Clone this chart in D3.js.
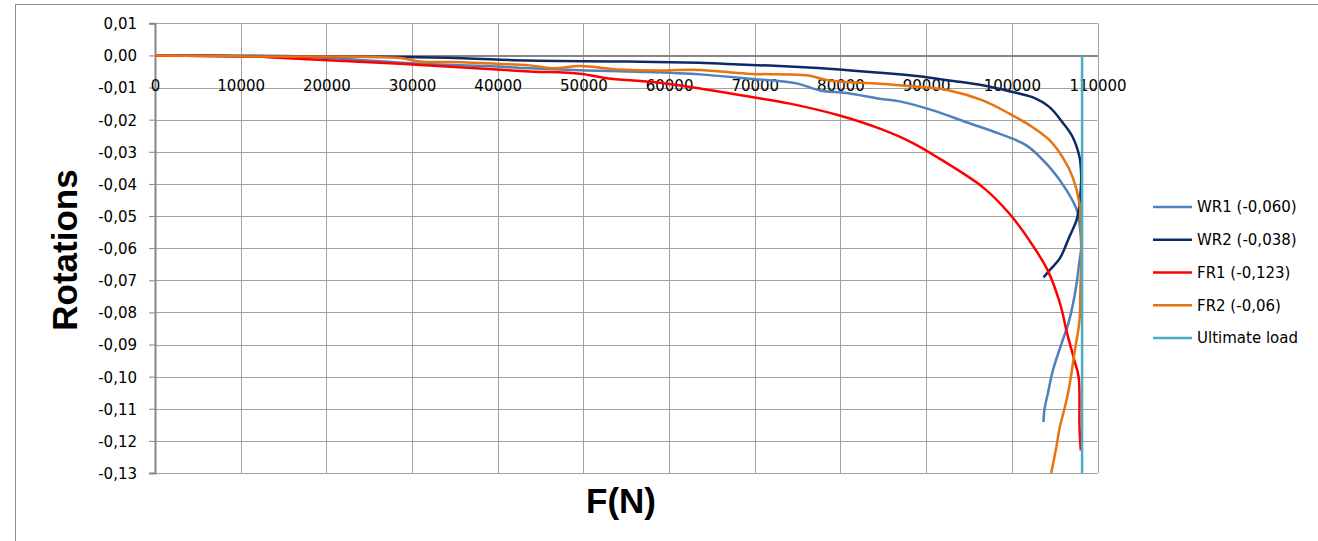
<!DOCTYPE html>
<html>
<head>
<meta charset="utf-8">
<script src="https://cdn.jsdelivr.net/npm/d3@7"></script>
<style>
  html, body { margin: 0; padding: 0; background: #fff; }
  svg { display: block; }
  .tick-label { font-family: "DejaVu Sans", sans-serif; font-size: 15px; fill: #000; }
  .axis-title { font-family: "Liberation Sans", Arial, sans-serif; font-weight: bold; font-size: 35px; fill: #000; }
</style>
</head>
<body>
<svg id="chart" width="1318" height="541"></svg>
<script>
// Load F (N) and measured rotation for each specimen
const wr1F   = [0, 16900, 30900, 38700, 43700, 50400, 56200, 63600, 69100, 74900, 77600, 80700, 84600, 86900, 90800, 94700, 98600, 101700, 104400, 106400, 107600, 107900, 108100, 107900, 107500, 106700, 105800, 104800, 104200, 103800, 103700];
const wr1Rot = [0, -0.0003, -0.0026, -0.0033, -0.0040, -0.0047, -0.0051, -0.0059, -0.0072, -0.0087, -0.0109, -0.0117, -0.0135, -0.0143, -0.0171, -0.0208, -0.0244, -0.0280, -0.0348, -0.0420, -0.0482, -0.0524, -0.0600, -0.0638, -0.0721, -0.0825, -0.0897, -0.0980, -0.1053, -0.1104, -0.1141];

const wr2F   = [0, 11000, 29000, 36000, 43500, 55000, 63500, 68200, 75200, 79900, 84600, 89200, 92700, 96600, 100100, 102400, 104400, 105900, 107100, 107900, 108050, 108100, 108000, 107900, 107550, 106700, 105600, 104400, 103700];
const wr2Rot = [0, -0.0003, -0.0005, -0.0009, -0.0016, -0.0019, -0.0023, -0.0028, -0.0036, -0.0044, -0.0054, -0.0065, -0.0078, -0.0093, -0.0114, -0.0130, -0.0161, -0.0208, -0.0254, -0.0316, -0.0348, -0.0380, -0.0436, -0.0467, -0.0513, -0.0566, -0.0632, -0.0669, -0.0691];

const fr1F   = [0, 11100, 14900, 20800, 28600, 39900, 43700, 49600, 52700, 58100, 63600, 69800, 74100, 79900, 84600, 88400, 91600, 96600, 99700, 102400, 104200, 105600, 106500, 107300, 107800, 107900, 108050];
const fr1Rot = [0, -0.0003, -0.0008, -0.0016, -0.0026, -0.0044, -0.0050, -0.0057, -0.0071, -0.0083, -0.0103, -0.0130, -0.0150, -0.0187, -0.0228, -0.0272, -0.0322, -0.0410, -0.0492, -0.0590, -0.0670, -0.0770, -0.0870, -0.0949, -0.1001, -0.1157, -0.1230];

const fr2F   = [0, 11100, 28600, 30900, 35900, 39900, 43700, 46400, 49600, 54200, 58100, 63600, 69100, 76100, 78700, 84600, 90100, 92700, 96600, 99700, 102400, 104400, 105900, 107100, 107900, 108100, 108000, 107900, 107300, 106700, 106200, 105600, 105200, 104600];
const fr2Rot = [0, -0.0003, -0.0008, -0.0019, -0.0021, -0.0026, -0.0031, -0.0040, -0.0033, -0.0044, -0.0047, -0.0045, -0.0057, -0.0062, -0.0078, -0.0088, -0.0100, -0.0109, -0.0140, -0.0181, -0.0223, -0.0264, -0.0316, -0.0379, -0.0461, -0.0600, -0.0731, -0.0825, -0.0928, -0.1032, -0.1094, -0.1157, -0.1219, -0.1300];

const ultimateF   = [108200, 108200];
const ultimateRot = [0, -0.130];

const seriesNames  = ["WR1 (-0,060)", "WR2 (-0,038)", "FR1 (-0,123)", "FR2 (-0,06)", "Ultimate load"];
const seriesColors = ["#4f81bd", "#0d2a66", "#ff0000", "#e8730f", "#4bacc6"];

const xTicks = [0, 10000, 20000, 30000, 40000, 50000, 60000, 70000, 80000, 90000, 100000, 110000];
const yTicks = [0.01, 0, -0.01, -0.02, -0.03, -0.04, -0.05, -0.06, -0.07, -0.08, -0.09, -0.10, -0.11, -0.12, -0.13];

const series = [
  [wr1F, wr1Rot], [wr2F, wr2Rot], [fr1F, fr1Rot], [fr2F, fr2Rot], [ultimateF, ultimateRot]
].map(([f, r], i) => ({
  name: seriesNames[i],
  color: seriesColors[i],
  points: f.map((v, j) => ({ f: v, r: r[j] }))
}));

const svg = d3.select("#chart");

// Chart area frame
svg.append("rect")
  .attr("x", 15.5).attr("y", 4.5)
  .attr("width", 1400).attr("height", 700)
  .attr("fill", "none").attr("stroke", "#8c8c8c").attr("stroke-width", 1);

const plot = { left: 155, right: 1097.5, top: 23.3, bottom: 473 };

const x = d3.scaleLinear().domain([0, 110000]).range([plot.left, plot.right]);
const y = d3.scaleLinear().domain([0.01, -0.13]).range([plot.top, plot.bottom]);

const fmtY = v => d3.format(".2f")(v).replace(".", ",").replace("−", "-");

// Gridlines
const grid = svg.append("g").attr("stroke", "#a3a3a3").attr("stroke-width", 1);
grid.selectAll("line.h").data(yTicks).join("line")
  .attr("x1", plot.left).attr("x2", plot.right)
  .attr("y1", d => Math.round(y(d)) + 0.5).attr("y2", d => Math.round(y(d)) + 0.5);
grid.selectAll("line.v").data(xTicks).join("line")
  .attr("y1", plot.top).attr("y2", plot.bottom)
  .attr("x1", d => Math.round(x(d)) + 0.5).attr("x2", d => Math.round(x(d)) + 0.5);

// Vertical axis with tick labels
const yAxis = d3.axisLeft(y).tickValues(yTicks).tickSize(6).tickPadding(12).tickFormat(fmtY);
const yg = svg.append("g").attr("transform", `translate(${plot.left},0)`).call(yAxis);
yg.select(".domain").attr("stroke", "#868686").attr("stroke-width", 2);
yg.selectAll(".tick line").attr("stroke", "#868686").attr("stroke-width", 1);
yg.selectAll(".tick text").attr("class", "tick-label").attr("dy", "0.36em");
yg.attr("font-size", null).attr("font-family", null);

// Horizontal axis at rotation 0, labels offset below
const xAxis = d3.axisBottom(x).tickValues(xTicks).tickSize(0).tickPadding(25).tickFormat(d3.format("d"));
const xg = svg.append("g").attr("transform", `translate(0,${Math.round(y(0)) + 0.5})`).call(xAxis);
xg.select(".domain").attr("stroke", "#868686").attr("stroke-width", 2);
xg.selectAll(".tick text").attr("class", "tick-label");
xg.attr("font-size", null).attr("font-family", null);

// Data lines (smoothed through the measured points)
const line = d3.line().x(d => x(d.f)).y(d => y(d.r)).curve(d3.curveCatmullRom.alpha(0.5));
svg.append("g").selectAll("path").data(series).join("path")
  .attr("d", d => line(d.points))
  .attr("fill", "none")
  .attr("stroke", d => d.color)
  .attr("stroke-width", 2.5)
  .attr("stroke-linejoin", "round");

// Axis titles
svg.append("text").attr("class", "axis-title")
  .attr("transform", "translate(77,250) rotate(-90)")
  .attr("text-anchor", "middle")
  .text("Rotations");
svg.append("text").attr("class", "axis-title")
  .attr("x", 621).attr("y", 513)
  .attr("text-anchor", "middle")
  .text("F(N)");

// Legend
const legend = svg.append("g");
const legY = d3.scalePoint().domain(seriesNames).range([207, 338]);
const items = legend.selectAll("g").data(series).join("g")
  .attr("transform", d => `translate(0,${legY(d.name)})`);
items.append("line")
  .attr("x1", 1153).attr("x2", 1192).attr("y1", 0).attr("y2", 0)
  .attr("stroke", d => d.color).attr("stroke-width", 2.5);
items.append("text").attr("class", "tick-label")
  .attr("x", 1197).attr("dy", "0.36em")
  .text(d => d.name);
</script>
</body>
</html>
